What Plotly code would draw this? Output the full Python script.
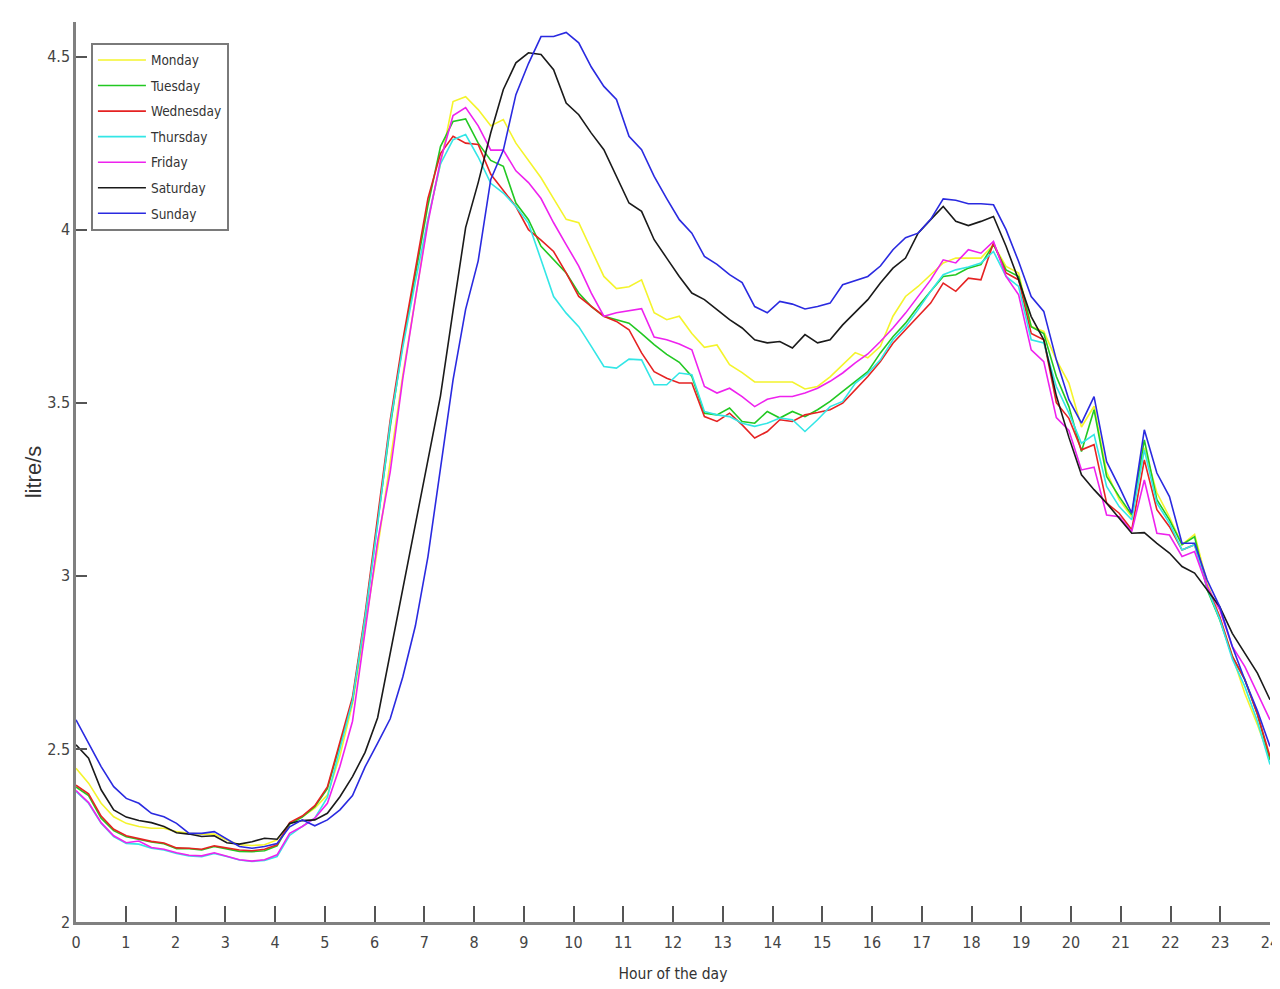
import numpy as np
import plotly.graph_objects as go

# 96 samples spread evenly over the day (0 .. 24 h)
hours = np.linspace(0, 24, 96)

monday = [2.444, 2.401, 2.343, 2.304, 2.285, 2.276, 2.271, 2.271, 2.261, 2.256, 2.254, 2.254, 2.237, 2.223, 2.221, 2.223, 2.237, 2.285, 2.304, 2.329, 2.367,
          2.48, 2.63, 2.86, 3.08, 3.33, 3.58, 3.80, 4.03, 4.19, 4.37, 4.384, 4.347, 4.30,
          4.318, 4.25, 4.20, 4.15, 4.09, 4.03, 4.02, 3.94, 3.865, 3.83, 3.835, 3.855, 3.76, 3.74, 3.75,
          3.70, 3.66, 3.667, 3.61, 3.587, 3.56, 3.56, 3.56, 3.56, 3.54, 3.547, 3.575, 3.61, 3.645, 3.63,
          3.663, 3.75, 3.807, 3.836, 3.87, 3.904, 3.918, 3.918, 3.918, 3.957, 3.894, 3.875, 3.72, 3.706, 3.624, 3.557,
          3.43, 3.49, 3.30, 3.22, 3.17, 3.37, 3.24, 3.17, 3.09, 3.12, 2.98, 2.88, 2.77, 2.66, 2.57, 2.47]

tuesday = [2.39, 2.365, 2.30, 2.264, 2.246, 2.238, 2.231, 2.226, 2.212, 2.212, 2.208, 2.218, 2.212, 2.204, 2.203, 2.206, 2.22, 2.283, 2.303, 2.333, 2.385,
           2.51, 2.64, 2.88, 3.15, 3.43, 3.67, 3.87, 4.07, 4.24,
           4.313, 4.32, 4.25, 4.20, 4.183, 4.077, 4.029, 3.952, 3.913, 3.875, 3.817, 3.778, 3.75, 3.74, 3.73, 3.70, 3.668, 3.64, 3.617,
           3.576, 3.47, 3.465, 3.485, 3.446, 3.441, 3.475, 3.456, 3.475, 3.46, 3.48, 3.504, 3.533,
           3.562, 3.59, 3.644, 3.691, 3.73, 3.778, 3.822, 3.865, 3.87, 3.889, 3.899, 3.957, 3.884, 3.865, 3.72, 3.70, 3.576, 3.489,
           3.359, 3.48, 3.287, 3.229, 3.176, 3.393, 3.22, 3.162, 3.09, 3.113, 2.96, 2.873, 2.767, 2.70, 2.60, 2.468]

wednesday = [2.395, 2.37, 2.306, 2.268, 2.249, 2.24, 2.233, 2.228, 2.214, 2.213, 2.21, 2.22, 2.214, 2.208, 2.206, 2.21, 2.223, 2.287, 2.306, 2.336, 2.39,
             2.52, 2.65, 2.89, 3.17, 3.45, 3.68, 3.89, 4.09, 4.22,
             4.27, 4.25, 4.246, 4.16, 4.115, 4.067, 4.0, 3.97, 3.937, 3.875, 3.807, 3.778, 3.75, 3.735, 3.711, 3.644, 3.59, 3.571, 3.557,
             3.557, 3.46, 3.446, 3.47, 3.436, 3.398, 3.417, 3.451, 3.446, 3.465, 3.472, 3.48, 3.499,
             3.538, 3.576, 3.619, 3.672, 3.711, 3.75, 3.788, 3.846, 3.822, 3.86, 3.855, 3.962, 3.875, 3.855, 3.70, 3.682, 3.50, 3.455,
             3.364, 3.379, 3.21, 3.181, 3.133, 3.335, 3.191, 3.142, 3.075, 3.09, 2.969, 2.882, 2.767, 2.70, 2.60, 2.478]

thursday = [2.377, 2.343, 2.285, 2.247, 2.227, 2.225, 2.213, 2.208, 2.198, 2.191, 2.189, 2.198, 2.189, 2.179, 2.175, 2.178, 2.189, 2.25, 2.276, 2.30, 2.36,
            2.50, 2.64, 2.88, 3.15, 3.44, 3.66, 3.85, 4.03, 4.19,
            4.26, 4.275, 4.21, 4.134, 4.106, 4.067, 4.019, 3.913, 3.807, 3.759, 3.72, 3.663, 3.605, 3.60, 3.626, 3.624, 3.552, 3.552, 3.586,
            3.581, 3.475, 3.465, 3.46, 3.441, 3.432, 3.441, 3.456, 3.451, 3.417, 3.451, 3.489, 3.504,
            3.556, 3.585, 3.624, 3.682, 3.72, 3.769, 3.822, 3.87, 3.884, 3.892, 3.904, 3.937, 3.865, 3.836, 3.682, 3.673, 3.547, 3.47,
            3.383, 3.408, 3.258, 3.2, 3.162, 3.364, 3.21, 3.152, 3.075, 3.09, 2.965, 2.875, 2.76, 2.68, 2.58, 2.455]

friday = [2.38, 2.345, 2.287, 2.249, 2.229, 2.234, 2.215, 2.21, 2.2, 2.193, 2.191, 2.2, 2.19, 2.18, 2.176, 2.18, 2.194, 2.256, 2.276, 2.30, 2.343,
          2.45, 2.58, 2.84, 3.10, 3.30, 3.57, 3.80, 4.02, 4.20,
          4.33, 4.353, 4.30, 4.23, 4.23, 4.17, 4.136, 4.09, 4.02, 3.957, 3.895, 3.817, 3.75, 3.76, 3.767, 3.772, 3.69, 3.682, 3.67,
          3.653, 3.547, 3.528, 3.542, 3.518, 3.489, 3.51, 3.518, 3.518, 3.528, 3.542, 3.562, 3.586,
          3.615, 3.641, 3.677, 3.716, 3.759, 3.807, 3.855, 3.913, 3.904, 3.942, 3.932, 3.966, 3.865, 3.812, 3.653, 3.619, 3.457, 3.42,
          3.306, 3.314, 3.176, 3.171, 3.128, 3.277, 3.123, 3.118, 3.056, 3.07, 2.969, 2.902, 2.796, 2.738, 2.661, 2.584]

saturday = [2.512, 2.473, 2.382, 2.324, 2.303, 2.293, 2.287, 2.276, 2.258, 2.254, 2.247, 2.249, 2.229, 2.225, 2.232, 2.242, 2.239, 2.285, 2.293, 2.295, 2.314, 2.362, 2.42, 2.49, 2.59,
            2.775, 2.961, 3.147, 3.334, 3.52, 3.766, 4.006, 4.136, 4.28,
            4.405, 4.482, 4.511, 4.506, 4.462, 4.366, 4.332, 4.279, 4.231, 4.154, 4.077, 4.053, 3.971, 3.918, 3.865, 3.817, 3.798, 3.769, 3.74, 3.716, 3.682, 3.673, 3.677, 3.658, 3.697, 3.673,
            3.682, 3.725, 3.76, 3.798, 3.846, 3.889, 3.918, 3.99, 4.029, 4.067, 4.024, 4.012, 4.024, 4.038, 3.952, 3.855, 3.749, 3.682, 3.52, 3.40,
            3.292, 3.249, 3.21, 3.168, 3.123, 3.125, 3.094, 3.066, 3.027, 3.008, 2.96, 2.911, 2.834, 2.777, 2.719, 2.642]

sunday = [2.584, 2.516, 2.449, 2.391, 2.357, 2.343, 2.314, 2.304, 2.285, 2.256, 2.256, 2.261, 2.239, 2.218, 2.213, 2.218, 2.227, 2.275, 2.295, 2.278, 2.295, 2.324, 2.365, 2.448, 2.517,
          2.587, 2.708, 2.855, 3.055, 3.306, 3.566, 3.77, 3.91, 4.145, 4.23,
          4.39, 4.48, 4.558, 4.558, 4.57, 4.54, 4.47, 4.414, 4.376, 4.27, 4.231, 4.154, 4.09,
          4.029, 3.99, 3.923, 3.90, 3.87, 3.847, 3.778, 3.76, 3.793, 3.785, 3.771, 3.778, 3.788, 3.841, 3.853, 3.865, 3.895, 3.942,
          3.977, 3.99, 4.03, 4.089, 4.085, 4.075, 4.075, 4.072, 4.0, 3.908, 3.807, 3.764, 3.624, 3.509,
          3.441, 3.518, 3.33, 3.258, 3.181, 3.422, 3.297, 3.229, 3.094, 3.094, 2.988, 2.911, 2.796, 2.699, 2.61, 2.507]

day_names = ["Monday", "Tuesday", "Wednesday", "Thursday", "Friday", "Saturday", "Sunday"]
day_series = [monday, tuesday, wednesday, thursday, friday, saturday, sunday]
day_colors = ["#f4f42c", "#22c822", "#e52222", "#33e6e6", "#ee22ee", "#1a1a1a", "#2a2ae0"]

x_ticks = list(range(0, 25))
y_ticks = [2, 2.5, 3, 3.5, 4, 4.5]
y_tick_labels = ["2", "2.5", "3", "3.5", "4", "4.5"]

NARROW = "DejaVu Sans Condensed, Liberation Sans Narrow, Arial Narrow, sans-serif"

fig = go.Figure()
for name, vals, col in zip(day_names, day_series, day_colors):
    fig.add_trace(go.Scatter(x=hours, y=vals, mode="lines", name=name, legendgroup=name,
                             line=dict(color=col, width=1.6)))

fig.update_layout(
    width=1272, height=981,
    margin=dict(l=68, r=10, t=14, b=67, autoexpand=False),
    paper_bgcolor="white", plot_bgcolor="white",
    showlegend=True,
    legend=dict(x=0.0125, y=0.977, xanchor="left", yanchor="top",
                bgcolor="white", bordercolor="#7a7a7a", borderwidth=2,
                font=dict(family=NARROW, size=13.5, color="#333333"),
                itemwidth=48, tracegroupgap=5),
    font=dict(family=NARROW, color="#444444"),
)
fig.update_xaxes(range=[0, 24], tickmode="array", tickvals=x_ticks,
                 ticks="inside", ticklen=16, tickwidth=1.5, tickcolor="#555555",
                 showline=True, linecolor="#808080", linewidth=2.5, mirror=False,
                 showgrid=False, zeroline=False, ticklabelstandoff=4,
                 ticklabeloverflow="allow", automargin=False,
                 tickfont=dict(family=NARROW, size=16, color="#444444"),
                 title=dict(text="Hour of the day", standoff=18,
                            font=dict(family=NARROW, size=15.5, color="#333333")))
fig.update_yaxes(range=[2, 4.6], tickmode="array", tickvals=y_ticks, ticktext=y_tick_labels,
                 ticks="inside", ticklen=11, tickwidth=1.5, tickcolor="#555555",
                 showline=True, linecolor="#808080", linewidth=2.5, mirror=False,
                 showgrid=False, zeroline=False, automargin=False,
                 tickfont=dict(family=NARROW, size=16, color="#444444"),
                 title=dict(text="litre/s", standoff=0,
                            font=dict(family="Liberation Sans, Arial, sans-serif", size=22, color="#333333")))

fig.write_html("out.html")
